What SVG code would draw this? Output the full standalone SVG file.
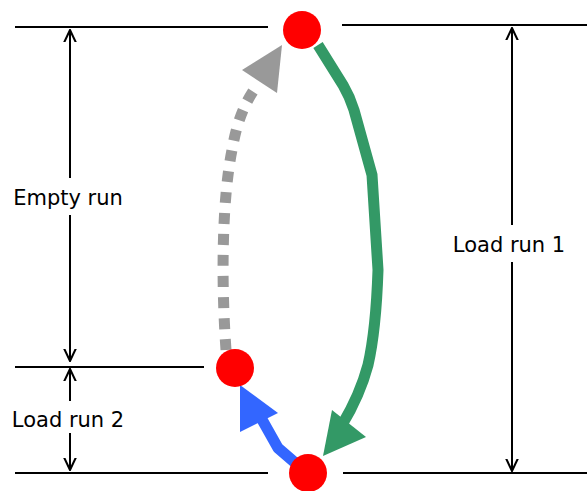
<svg xmlns="http://www.w3.org/2000/svg" width="587" height="491" viewBox="0 0 587 491">
<style>
.lvl{stroke:#000;stroke-width:2;fill:none}
.node{fill:#ff0000}
.lbl{font-family:"DejaVu Sans",Verdana,sans-serif;font-size:21px;fill:#000;text-anchor:middle}
</style>
<defs>
<marker id="ah" viewBox="0 0 10 10" refX="9.5" refY="5" markerWidth="13" markerHeight="14" markerUnits="userSpaceOnUse" orient="auto-start-reverse">
<path d="M0,0.5 L9.5,5 L0,9.5" fill="none" stroke="#000" stroke-width="1.6"/>
</marker>
</defs>
<rect width="587" height="491" fill="#fff"/>
<g id="levels">
<line class="lvl" x1="15" y1="27" x2="268" y2="27"/>
<line class="lvl" x1="342" y1="25" x2="587" y2="25"/>
<line class="lvl" x1="15" y1="367" x2="204" y2="367"/>
<line class="lvl" x1="15" y1="473" x2="268" y2="473"/>
<line class="lvl" x1="343" y1="473" x2="587" y2="473"/>
</g>
<g id="connectors">
<line class="lvl" x1="70" y1="30" x2="70" y2="178" style="marker-start:url(#ah)"/>
<line class="lvl" x1="70" y1="215" x2="70" y2="361" style="marker-end:url(#ah)"/>
<line class="lvl" x1="70" y1="369" x2="70" y2="401" style="marker-start:url(#ah)"/>
<line class="lvl" x1="70" y1="433" x2="70" y2="470" style="marker-end:url(#ah)"/>
<line class="lvl" x1="512" y1="28" x2="512" y2="225" style="marker-start:url(#ah)"/>
<line class="lvl" x1="512" y1="262" x2="512" y2="471" style="marker-end:url(#ah)"/>
<path d="M318,45 L343,85 Q350,97 354,110 L372,175 L378,270 Q376,330 368,365 Q360,395 342,425" fill="none" stroke="#339966" stroke-width="11"/>
<polygon points="323,456 332,410 366,437" fill="#339966"/>
<path d="M300,467 L278,448 L260,416" fill="none" stroke="#3366ff" stroke-width="11" stroke-linejoin="round"/>
<polygon points="240,385 240,432 278,413" fill="#3366ff"/>
<path d="M226,350 C221,280 222,200 232,150 C238,115 248,98 258,84" fill="none" stroke="#999999" stroke-width="11" stroke-dasharray="11 10"/>
<polygon points="282,45 242,70 277,93" fill="#999999"/>
</g>
<g id="n-top"><circle class="node" cx="302" cy="30" r="19"/></g>
<g id="n-mid"><circle class="node" cx="235" cy="368" r="19"/></g>
<g id="n-bot"><circle class="node" cx="308" cy="473" r="19"/></g>
<g id="labels">
<text class="lbl" x="68" y="205">Empty run</text>
<text class="lbl" x="68" y="427">Load run 2</text>
<text class="lbl" x="509" y="252">Load run 1</text>
</g>
</svg>
